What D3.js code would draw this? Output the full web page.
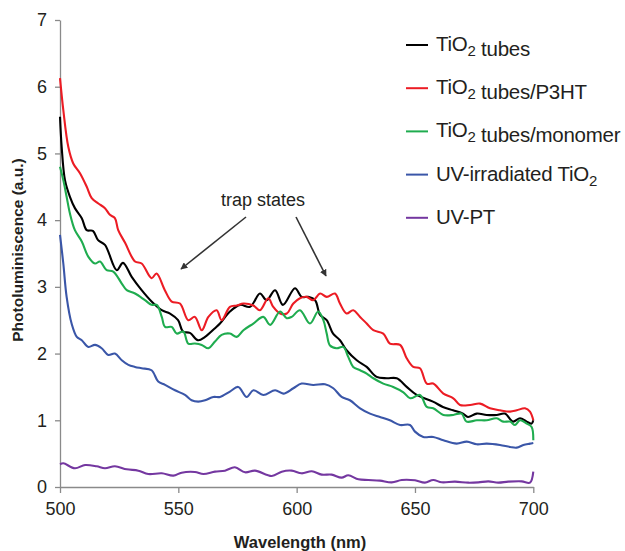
<!DOCTYPE html>
<html>
<head>
<meta charset="utf-8">
<script src="https://cdn.jsdelivr.net/npm/d3@7"></script>
<style>
  body { margin: 0; background: #fff; }
  text { font-family: "Liberation Sans", Arial, sans-serif; fill: #231f20; }
</style>
</head>
<body>
<svg id="viz"></svg>
<script>
var width = 625, height = 551;

// [wavelength nm, PL a.u.]
var tubes = [[500,5.55],[500.7,5.1],[502.1,4.6],[504.2,4.35],[506.3,4.18],[509.2,4.03],[511.3,3.85],[513.9,3.84],
  [516.1,3.7],[519,3.63],[524,3.25],[526.6,3.36],[530.3,3.15],[534.5,2.95],[538.7,2.78],[543,2.65],[546.5,2.6],
  [549.9,2.5],[552,2.33],[554.9,2.31],[558.3,2.2],[561.3,2.25],[565.5,2.38],[567.6,2.45],[571.8,2.63],[576.1,2.73],
  [580.3,2.7],[584.5,2.9],[587.3,2.8],[590.9,2.95],[594.2,2.73],[599.3,2.98],[602.1,2.85],[604.8,2.85],[607.8,2.8],
  [609.9,2.58],[612.7,2.5],[615.4,2.3],[618.3,2.2],[621.1,2.05],[625.4,1.9],[629.6,1.8],[633.8,1.65],[638.1,1.63],
  [642.3,1.63],[646.5,1.5],[650.7,1.38],[657.6,1.28],[661.8,1.2],[666.1,1.15],[670.3,1.1],[672.4,1.05],[676.1,1.1],
  [680.3,1.08],[684.5,1.08],[688,1.1],[691.4,0.98],[694.4,1.03],[697.2,0.98],[699.3,0.95],[700,1.0]];

var tubesP3HT = [[500,6.13],[501.4,5.65],[503.5,5.1],[505.6,4.85],[508.5,4.7],[511.3,4.5],[513.4,4.33],[516.2,4.25],
  [519,4.18],[521.1,4.08],[523.2,4.03],[524.6,3.85],[527.5,3.66],[531.7,3.38],[534.5,3.35],[538.7,3.13],[540.8,3.2],
  [544.3,2.95],[547.2,2.78],[550.7,2.75],[554.2,2.5],[557,2.55],[559.9,2.35],[562.7,2.55],[566.2,2.65],[568.3,2.5],
  [571.8,2.7],[574.7,2.72],[577.5,2.75],[581.7,2.72],[584.5,2.65],[588,2.83],[590.1,2.7],[593,2.6],[595.8,2.6],
  [598.6,2.75],[601.4,2.83],[604.2,2.85],[607,2.8],[609.9,2.9],[612.7,2.85],[616.2,2.9],[618.3,2.75],[621.1,2.6],
  [623.9,2.65],[626.8,2.55],[629.6,2.45],[632.4,2.35],[636.6,2.3],[639.4,2.15],[643.7,2.13],[646.5,1.93],[649.3,1.8],
  [652.1,1.78],[655,1.55],[657.7,1.55],[662,1.4],[666.2,1.33],[669,1.23],[673.3,1.23],[677.5,1.25],[681.7,1.18],
  [685.9,1.15],[690.2,1.13],[693,1.15],[696.5,1.18],[698.6,1.13],[700,1.0]];

var tubesMonomer = [[500,4.8],[501.4,4.6],[502.8,4.35],[504.2,4.1],[506.3,3.85],[509.2,3.68],[512,3.45],[514.8,3.35],
  [516.9,3.38],[519.7,3.25],[522.5,3.23],[526.1,3.05],[528.2,2.95],[531.7,2.9],[535.9,2.8],[538.7,2.73],[540.9,2.73],
  [543,2.55],[544.4,2.4],[547.2,2.4],[549.3,2.3],[552.1,2.33],[554.2,2.15],[557,2.15],[559.9,2.13],[562.7,2.08],
  [565.5,2.18],[568.3,2.28],[571.8,2.3],[574.7,2.25],[577.5,2.35],[581.7,2.45],[585.9,2.55],[588.8,2.43],[593,2.63],
  [595.8,2.53],[597.9,2.55],[601.4,2.65],[605.6,2.45],[609.1,2.63],[611.3,2.5],[612.7,2.3],[614.1,2.12],[616.9,2.08],
  [619.7,2.1],[621.8,1.95],[623.9,1.8],[626.8,1.75],[629.6,1.7],[632.4,1.63],[636.6,1.55],[640.8,1.5],[645.1,1.42],
  [648,1.33],[652.1,1.38],[655,1.2],[657.7,1.18],[662,1.08],[666.2,1.08],[669.7,1.1],[671.8,0.98],[676.1,1.0],
  [680.3,1.0],[684.5,1.03],[687.3,0.98],[690.2,0.98],[692.3,0.93],[694.4,1.0],[697.2,0.95],[699.3,0.9],[700,0.7]];

var uvTiO2 = [[500,3.78],[501.4,3.35],[502.8,2.85],[504.9,2.45],[507.1,2.25],[509.2,2.2],[512,2.1],[514.8,2.13],
  [517.6,2.08],[520.4,1.98],[523.2,2.0],[526.1,1.9],[528.9,1.83],[531.7,1.8],[534.5,1.78],[538.7,1.75],[541.5,1.58],
  [544.4,1.53],[548.6,1.45],[552.8,1.38],[555.6,1.3],[558.4,1.28],[561.3,1.3],[564.8,1.35],[567.6,1.35],[571.8,1.43],
  [575.3,1.5],[578.9,1.35],[581.7,1.45],[585.9,1.38],[590.9,1.45],[594.4,1.4],[598.6,1.48],[602.1,1.55],[607,1.53],
  [612,1.54],[615.5,1.48],[619,1.35],[622.5,1.3],[626.8,1.18],[631,1.1],[635.2,1.05],[639.4,1.0],[643.7,0.93],
  [647.9,0.93],[650,0.83],[653.5,0.75],[657.7,0.75],[662,0.7],[667.6,0.65],[671.9,0.68],[676.1,0.64],[680.3,0.65],
  [685.9,0.63],[690.2,0.6],[693,0.59],[695.8,0.63],[698.6,0.65],[700,0.66]];

var uvPT = [[500,0.34],[501.4,0.355],[506.3,0.28],[510.6,0.33],[515.5,0.31],[519,0.28],[523.2,0.31],[528.2,0.265],
  [533.1,0.245],[537.3,0.195],[543,0.205],[547.9,0.17],[551.4,0.215],[557,0.225],[560.6,0.195],[565.5,0.23],
  [569.7,0.245],[573.9,0.295],[578.2,0.22],[582.4,0.245],[589.5,0.165],[593.7,0.23],[597.9,0.245],[602.1,0.205],
  [606.4,0.235],[610.6,0.185],[614.8,0.185],[619,0.14],[621.8,0.175],[626.1,0.115],[630.3,0.105],[635.2,0.095],
  [640.2,0.07],[644.4,0.105],[650,0.1],[654.2,0.065],[657.7,0.105],[661.3,0.07],[666.9,0.08],[672.5,0.065],
  [676.8,0.07],[681,0.085],[685.2,0.065],[689.4,0.08],[695.1,0.085],[698.6,0.065],[700,0.23]];

var seriesNames = ["TiO2 tubes", "TiO2 tubes/P3HT", "TiO2 tubes/monomer", "UV-irradiated TiO2", "UV-PT"];
var seriesData = [tubes, tubesP3HT, tubesMonomer, uvTiO2, uvPT];
var seriesColors = ["#000000", "#ec1c24", "#1fac4f", "#3a56a8", "#7437a0"];

var xTicks = [500, 550, 600, 650, 700];
var yTicks = [0, 1, 2, 3, 4, 5, 6, 7];

var x = d3.scaleLinear().domain([500, 700]).range([60, 533.3]);
var y = d3.scaleLinear().domain([0, 7]).range([487, 20]);

var svg = d3.select("#viz").attr("width", width).attr("height", height);

// axes
var gx = svg.append("g").attr("transform", "translate(0," + y(0) + ")")
  .call(d3.axisBottom(x).tickValues(xTicks).tickSize(6).tickSizeOuter(0).tickPadding(9).tickFormat(d3.format("d")));
var gy = svg.append("g").attr("transform", "translate(" + x(500) + ",0)")
  .call(d3.axisLeft(y).tickValues(yTicks).tickSize(5).tickSizeOuter(0).tickPadding(8).tickFormat(d3.format("d")));

[gx, gy].forEach(function(g) {
  g.select(".domain").attr("stroke", "#8a8a8a").attr("stroke-width", 1.3);
  g.selectAll(".tick line").attr("stroke", "#8a8a8a").attr("stroke-width", 1.3);
  g.selectAll(".tick text").style("font-size", "18px").style("fill", "#231f20");
});

// lines
var line = d3.line()
  .x(function(d) { return x(d[0]); })
  .y(function(d) { return y(d[1]); })
  .curve(d3.curveCatmullRom.alpha(0.5));

svg.append("g").selectAll("path")
  .data(seriesData)
  .enter()
  .append("path")
  .attr("d", line)
  .attr("fill", "none")
  .attr("stroke", function(d, i) { return seriesColors[i]; })
  .attr("stroke-width", 2.1)
  .attr("stroke-linejoin", "round");

// axis titles
svg.append("text")
  .attr("x", 300).attr("y", 548)
  .attr("text-anchor", "middle")
  .style("font-size", "16.5px").style("font-weight", "bold")
  .text("Wavelength (nm)");

svg.append("text")
  .attr("transform", "translate(23,250) rotate(-90)")
  .attr("text-anchor", "middle")
  .style("font-size", "15.5px").style("font-weight", "bold")
  .text("Photoluminiscence (a.u.)");

// legend
var legend = svg.append("g").selectAll("g")
  .data(seriesNames)
  .enter()
  .append("g")
  .attr("transform", function(d, i) { return "translate(406," + (45 + i * 43.2) + ")"; });

legend.append("line")
  .attr("x1", 0).attr("x2", 22)
  .attr("stroke", function(d, i) { return seriesColors[i]; })
  .attr("stroke-width", 2);

legend.append("text")
  .attr("x", 30).attr("y", 6)
  .style("font-size", "20.5px")
  .style("letter-spacing", "-0.25px")
  .each(function(d) {
    var t = d3.select(this);
    var parts = d.split("TiO2");
    parts.forEach(function(p, k) {
      if (k > 0) {
        t.append("tspan").text("TiO");
        t.append("tspan").attr("dy", 5).style("font-size", "15px").text("2");
        t.append("tspan").attr("dy", -5).text("");
      }
      if (p) t.append("tspan").text(p);
    });
  });

// trap states annotation
svg.append("defs").append("marker")
  .attr("id", "arrow")
  .attr("viewBox", "0 -5 10 10")
  .attr("refX", 9).attr("refY", 0)
  .attr("markerWidth", 7).attr("markerHeight", 7)
  .attr("markerUnits", "userSpaceOnUse")
  .attr("orient", "auto")
  .append("path").attr("d", "M0,-5L10,0L0,5Z").attr("fill", "#333");

svg.append("text")
  .attr("x", 263).attr("y", 206)
  .attr("text-anchor", "middle")
  .style("font-size", "18px")
  .text("trap states");

var arrows = [[246, 217, 181, 269], [296, 217, 326, 276]];
svg.append("g").selectAll("line")
  .data(arrows)
  .enter()
  .append("line")
  .attr("x1", function(d) { return d[0]; })
  .attr("y1", function(d) { return d[1]; })
  .attr("x2", function(d) { return d[2]; })
  .attr("y2", function(d) { return d[3]; })
  .attr("stroke", "#333")
  .attr("stroke-width", 1.6)
  .attr("marker-end", "url(#arrow)");
</script>
</body>
</html>
